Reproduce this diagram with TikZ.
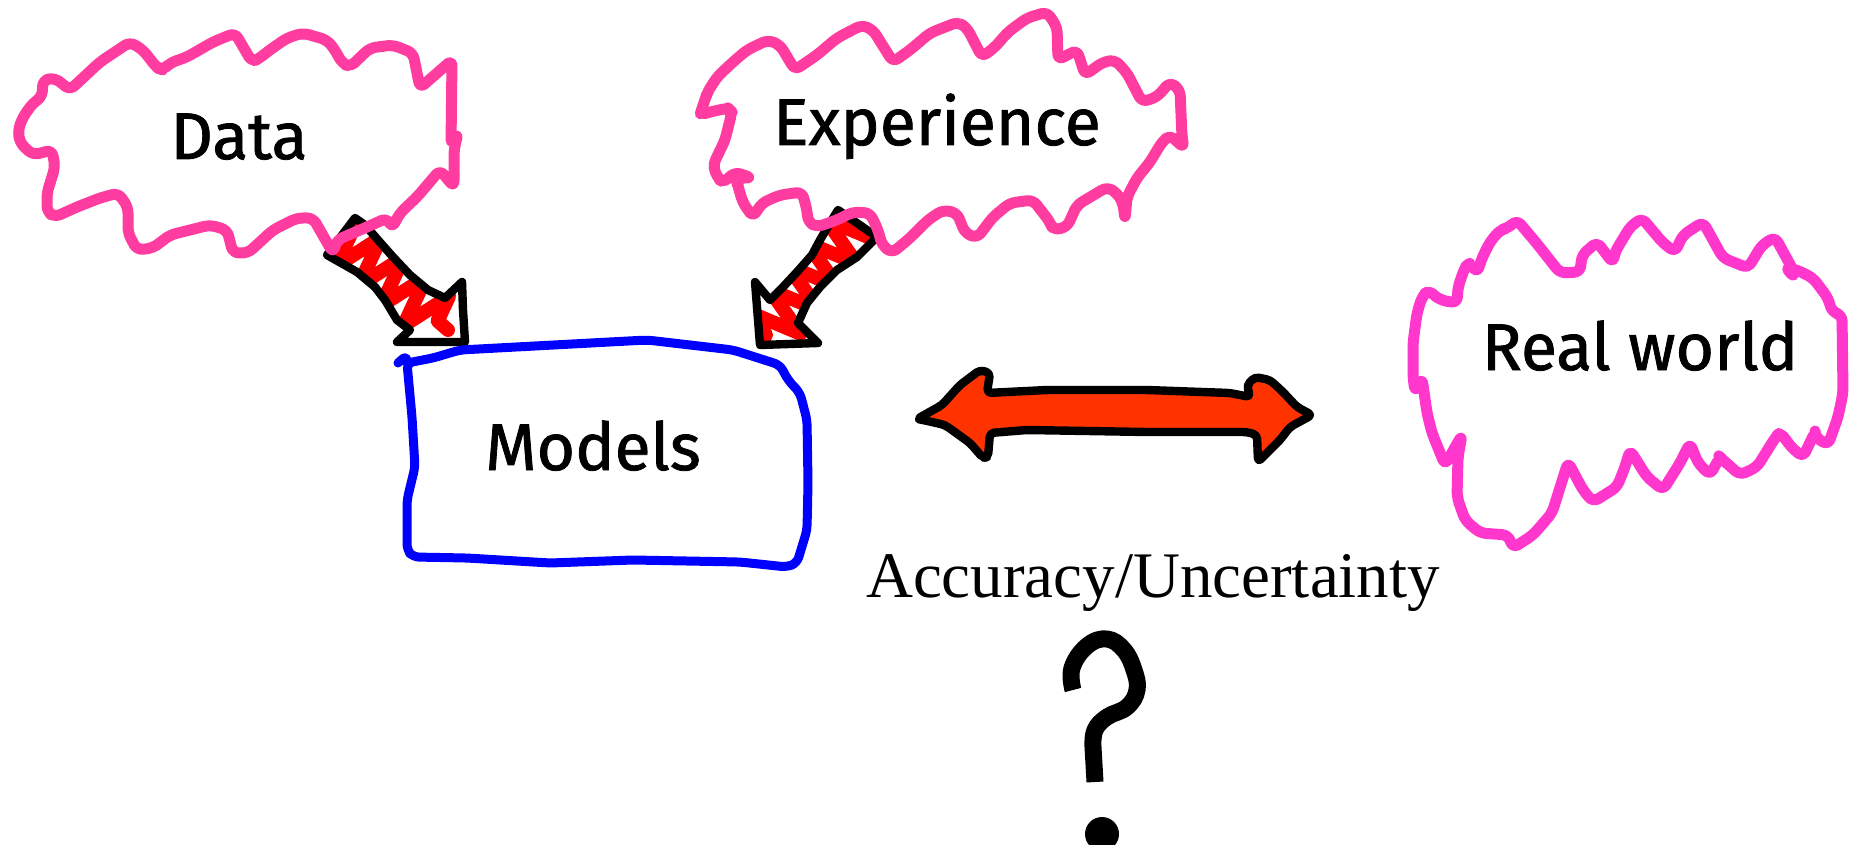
\documentclass[tikz,border=0pt]{standalone}
\usepackage{fontspec}
\setmainfont{Liberation Serif}
\newfontfamily\handfont[FakeBold=1.2]{Fira Sans}
\usetikzlibrary{decorations.pathmorphing}
\definecolor{cloudpink}{RGB}{255,60,160}
\definecolor{worldpink}{RGB}{255,55,205}
\definecolor{boxblue}{RGB}{0,0,255}
\definecolor{zigred}{RGB}{255,0,0}
\definecolor{dblorange}{RGB}{255,51,0}
\tikzset{
  cloudline/.style={draw=cloudpink, line width=5.5pt, line join=round, line cap=round, rounded corners=3pt},
  worldline/.style={cloudline, draw=worldpink},
  boxline/.style={draw=boxblue, line width=4.5pt, line join=round, line cap=round, rounded corners=3pt},
  arrowline/.style={draw=black, line width=4.2pt, line join=round, line cap=round},
  zigline/.style={draw=zigred, line width=7pt, line join=round, line cap=round,
    decorate, decoration={zigzag, segment length=15pt, amplitude=13pt}},
  dblarrow/.style={draw=black, fill=dblorange, line width=4.2pt, line join=round, line cap=round, rounded corners=2pt},
  handtext/.style={font=\handfont\fontsize{33}{40}\selectfont, inner sep=0pt, anchor=base},
  seriftext/.style={font=\fontsize{32.5}{38}\selectfont, inner sep=0pt, anchor=base},
}
\begin{document}
\begin{tikzpicture}[x=0.5pt,y=-0.5pt]
\useasboundingbox (0,0) rectangle (1852,845);
\fill[white] (0,0) rectangle (1852,845);

% ---- left arrow (Data -> Models)
\begin{scope}
\clip (327,255) -- (355,218) -- (365,225) -- (378,240) -- (393,257) -- (410,275) -- (428,290) -- (445,298) -- (462,282) -- (463,310) -- (465,342) -- (397,342) -- (410,330) -- (397,320) -- (385,300) -- (375,287) -- (357,272) -- cycle;
\draw[zigline] (336,232) -- (448,330);
\end{scope}
\draw[arrowline] (327,255) -- (355,218) -- (365,225) -- (378,240) -- (393,257) -- (410,275) -- (428,290) -- (445,298) -- (462,282) -- (463,310) -- (465,342) -- (397,342) -- (410,330) -- (397,320) -- (385,300) -- (375,287) -- (357,272) -- cycle;

% ---- right arrow (Experience -> Models)
\begin{scope}
\clip (838,210) -- (877,237) -- (857,257) -- (837,270) -- (820,287) -- (807,303) -- (798,323) -- (818,343) -- (760,345) -- (755,282) -- (770,300) -- (783,287) -- (797,272) -- (812,255) -- (820,240) -- (830,223) -- cycle;
\draw[zigline] (860,218) -- (762,340);
\end{scope}
\draw[arrowline] (838,210) -- (877,237) -- (857,257) -- (837,270) -- (820,287) -- (807,303) -- (798,323) -- (818,343) -- (760,345) -- (755,282) -- (770,300) -- (783,287) -- (797,272) -- (812,255) -- (820,240) -- (830,223) -- cycle;

% ---- Data cloud
\draw[cloudline] (130,42) -- (143,50) -- (157,68) -- (163,70) -- (170,63) -- (187,57) -- (213,42) -- (235,33) -- (252,62) -- (260,58) -- (267,52) -- (287,38) -- (303,33) -- (327,40) -- (335,50) -- (342,63) -- (350,67) -- (370,48) -- (393,45) -- (413,53) -- (420,88) -- (452,60) -- (451,145) -- (458,133) -- (454,150) -- (454,187) -- (440,170) -- (417,197) -- (400,213) -- (392,228) -- (387,218) -- (367,227) -- (337,240) -- (333,253) -- (313,218) -- (297,218) -- (273,230) -- (248,253) -- (233,253) -- (227,230) -- (210,225) -- (170,235) -- (153,248) -- (137,250) -- (128,233) -- (128,207) -- (118,193) -- (100,198) -- (77,207) -- (55,217) -- (47,212) -- (47,193) -- (55,167) -- (52,150) -- (33,155) -- (20,143) -- (18,130) -- (23,117) -- (33,103) -- (42,97) -- (43,80) -- (55,78) -- (70,90) -- (100,62) -- cycle;

% ---- Experience cloud
\draw[cloudline] (768,40) -- (780,45) -- (795,70) -- (817,55) -- (837,38) -- (862,25) -- (873,30) -- (893,62) -- (910,50) -- (930,33) -- (958,22) -- (967,28) -- (982,57) -- (995,47) -- (1008,32) -- (1027,18) -- (1047,12) -- (1057,27) -- (1058,60) -- (1077,50) -- (1085,75) -- (1103,62) -- (1115,60) -- (1127,73) -- (1142,102) -- (1157,97) -- (1170,82) -- (1180,90) -- (1182,137) -- (1184,148) -- (1170,135) -- (1162,142) -- (1150,162) -- (1137,178) -- (1127,197) -- (1125,220) -- (1123,203) -- (1117,193) -- (1107,187) -- (1077,205) -- (1067,227) -- (1053,230) -- (1050,222) -- (1033,200) -- (1010,203) -- (993,217) -- (977,238) -- (965,233) -- (957,213) -- (943,210) -- (928,220) -- (910,238) -- (892,253) -- (882,245) -- (878,230) -- (870,213) -- (853,212) -- (837,220) -- (817,227) -- (808,222) -- (807,210) -- (802,192) -- (780,195) -- (762,203) -- (753,217) -- (743,203) -- (737,183) -- (738,178) -- (752,178) -- (735,172) -- (723,183) -- (717,177) -- (713,165) -- (725,140) -- (732,112) -- (728,108) -- (710,112) -- (700,115) -- (702,108) -- (705,100) -- (707,93) -- (717,77) -- (733,62) -- (747,50) -- cycle;

% ---- Real world cloud
\draw[worldline] (1517,220) -- (1538,245) -- (1560,273) -- (1580,272) -- (1582,255) -- (1597,242) -- (1613,263) -- (1615,252) -- (1630,227) -- (1642,218) -- (1663,243) -- (1675,252) -- (1683,235) -- (1703,222) -- (1723,258) -- (1748,268) -- (1762,245) -- (1775,237) -- (1792,268) -- (1795,278) -- (1785,267) -- (1797,270) -- (1813,278) -- (1828,298) -- (1832,312) -- (1842,315) -- (1843,393) -- (1838,417) -- (1828,445) -- (1815,437) -- (1815,432) -- (1803,457) -- (1792,448) -- (1780,432) -- (1775,438) -- (1757,467) -- (1740,475) -- (1723,460) -- (1720,457) -- (1710,475) -- (1698,463) -- (1690,443) -- (1680,463) -- (1663,490) -- (1647,477) -- (1630,450) -- (1625,467) -- (1617,487) -- (1593,502) -- (1583,490) -- (1568,462) -- (1552,513) -- (1533,535) -- (1513,548) -- (1508,535) -- (1480,533) -- (1465,520) -- (1457,497) -- (1458,457) -- (1462,435) -- (1445,465) -- (1432,433) -- (1427,413) -- (1422,378) -- (1415,392) -- (1413,377) -- (1413,343) -- (1417,313) -- (1422,297) -- (1428,290) -- (1440,300) -- (1457,303) -- (1458,287) -- (1465,267) -- (1470,263) -- (1477,273) -- (1482,258) -- (1490,242) -- (1500,230) -- (1508,228) -- cycle;

% ---- Models box
\draw[boxline] (407,363) -- (433,358) -- (460,350) -- (647,340) -- (733,350) -- (780,365) -- (788,380) -- (800,393) -- (807,420) -- (808,483) -- (807,530) -- (797,563) -- (787,567) -- (740,562) -- (633,560) -- (550,563) -- (467,558) -- (413,557) -- (407,550) -- (407,500) -- (415,467) -- (412,417) -- cycle;
\draw[boxline] (398,363) -- (407,355) -- (407,363);

% ---- double arrow
\draw[dblarrow] (917,419) -- (942,405) -- (960,385) -- (980,370) -- (990,373) -- (987,393) -- (1047,390) -- (1147,390) -- (1230,393) -- (1250,397) -- (1247,385) -- (1255,377) -- (1270,380) -- (1283,392) -- (1297,407) -- (1312,415) -- (1290,427) -- (1280,440) -- (1258,462) -- (1257,435) -- (1247,432) -- (1147,432) -- (1027,430) -- (990,433) -- (988,457) -- (983,458) -- (970,443) -- (963,438) -- (945,425) -- (923,420) -- cycle;

% ---- question mark
\draw[line width=8.5pt, line cap=butt, line join=round] plot[smooth, tension=0.7] coordinates {(1073,690) (1072,668) (1087,646) (1107,639) (1124,650) (1134,670) (1137,690) (1127,707) (1107,717) (1095,730) (1093,747)} -- (1095,782);
\fill (1102,834) circle[radius=17];

% ---- texts
\node[handtext] (data) at (239,159) {Data};
\node[handtext] (exp) at (937,145) {Experience};
\node[handtext] (world) at (1640,370) {Real world};
\node[handtext] (models) at (593,470) {Models};
\node[seriftext] (acc) at (1153,597) {Accuracy/Uncertainty};
\end{tikzpicture}
\end{document}
